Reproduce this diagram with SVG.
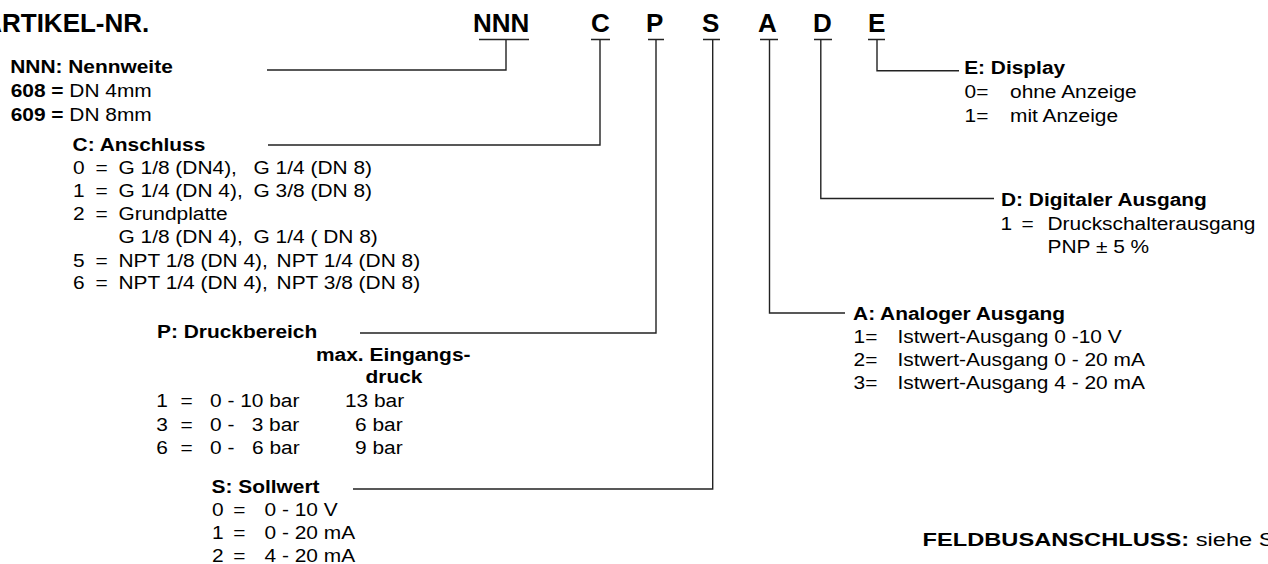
<svg xmlns="http://www.w3.org/2000/svg" width="1268" height="564" viewBox="0 0 1268 564">
<style>
text{font-family:"Liberation Sans",Arial,Helvetica,sans-serif;font-size:19px;fill:#000}
.h{font-size:26px;font-weight:bold}
.b{font-weight:bold}
.ln{fill:none;stroke:#222;stroke-width:1.4}
</style>
<rect width="1268" height="564" fill="#fff"/>
<g id="header">
<text class="h" x="-16.8" y="31.5">ARTIKEL-NR.</text>
<text class="h" x="473" y="31.5">NNN</text>
<text class="h" x="591" y="31.5">C</text>
<text class="h" x="646" y="31.5">P</text>
<text class="h" x="702" y="31.5">S</text>
<text class="h" x="758" y="31.5">A</text>
<text class="h" x="813" y="31.5">D</text>
<text class="h" x="868" y="31.5">E</text>
</g>
<g id="connectors">
<path class="ln" d="M479 39.5H529M506 39.5V70H267"/>
<path class="ln" d="M591 39.5H610M600 39.5V145H268"/>
<path class="ln" d="M648 39.5H664M656 39.5V333H360"/>
<path class="ln" d="M703 39.5H720M712.7 39.5V489H353"/>
<path class="ln" d="M760 39.5H778M769.5 39.5V313H845"/>
<path class="ln" d="M814 39.5H832M820.8 39.5V198.5H994"/>
<path class="ln" d="M868 39.5H885M877 39.5V70.7H959"/>
</g>
<g id="nnn" transform="scale(1.1 1)">
<text class="b" x="9.3" y="73">NNN: Nennweite</text>
<text x="9.7" y="97"><tspan class="b">608 =</tspan> DN 4mm</text>
<text x="9.7" y="121"><tspan class="b">609 =</tspan> DN 8mm</text>
</g>
<g id="c" transform="scale(1.1 1)">
<text class="b" x="66" y="151">C: Anschluss</text>
<text y="174"><tspan x="66.4">0</tspan><tspan x="86.8">=</tspan><tspan x="107.7">G 1/8 (DN4),</tspan><tspan x="230.5">G 1/4 (DN 8)</tspan></text>
<text y="197.3"><tspan x="66.4">1</tspan><tspan x="86.8">=</tspan><tspan x="107.7">G 1/4 (DN 4),</tspan><tspan x="230.5">G 3/8 (DN 8)</tspan></text>
<text y="220.3"><tspan x="66.4">2</tspan><tspan x="86.8">=</tspan><tspan x="107.7">Grundplatte</tspan></text>
<text y="243.3"><tspan x="107.7">G 1/8 (DN 4),</tspan><tspan x="230.5">G 1/4 ( DN 8)</tspan></text>
<text y="266.7"><tspan x="66.4">5</tspan><tspan x="86.8">=</tspan><tspan x="107.7">NPT 1/8 (DN 4),</tspan><tspan x="251.4">NPT 1/4 (DN 8)</tspan></text>
<text y="289.3"><tspan x="66.4">6</tspan><tspan x="86.8">=</tspan><tspan x="107.7">NPT 1/4 (DN 4),</tspan><tspan x="251.4">NPT 3/8 (DN 8)</tspan></text>
</g>
<g id="p" transform="scale(1.1 1)">
<text class="b" x="142.7" y="337.7">P: Druckbereich</text>
<text class="b" x="287.3" y="361">max. Eingangs-</text>
<text class="b" x="332.3" y="382.7">druck</text>
<text y="407.3"><tspan x="142.1">1</tspan><tspan x="164.1">=</tspan><tspan x="190.9">0 - 10 bar</tspan><tspan x="313.6">13 bar</tspan></text>
<text y="430.6"><tspan x="142.1">3</tspan><tspan x="164.1">=</tspan><tspan x="190.9">0 -</tspan><tspan x="228.8">3 bar</tspan><tspan x="322.7">6 bar</tspan></text>
<text y="454"><tspan x="142.1">6</tspan><tspan x="164.1">=</tspan><tspan x="190.9">0 -</tspan><tspan x="229.1">6 bar</tspan><tspan x="322.7">9 bar</tspan></text>
</g>
<g id="s" transform="scale(1.1 1)">
<text class="b" x="192.3" y="493">S: Sollwert</text>
<text y="516.5"><tspan x="192.7">0</tspan><tspan x="212.1">=</tspan><tspan x="240.5">0 - 10 V</tspan></text>
<text y="539.5"><tspan x="192.7">1</tspan><tspan x="212.1">=</tspan><tspan x="240.5">0 - 20 mA</tspan></text>
<text y="562"><tspan x="192.7">2</tspan><tspan x="212.1">=</tspan><tspan x="240.5">4 - 20 mA</tspan></text>
</g>
<g id="e" transform="scale(1.1 1)">
<text class="b" x="876.5" y="74">E: Display</text>
<text y="97.6"><tspan x="876.9">0</tspan><tspan x="887.5">=</tspan><tspan x="918.2">ohne Anzeige</tspan></text>
<text y="121.9"><tspan x="876.9">1</tspan><tspan x="887.5">=</tspan><tspan x="918.2">mit Anzeige</tspan></text>
</g>
<g id="d" transform="scale(1.1 1)">
<text class="b" x="910" y="206.3">D: Digitaler Ausgang</text>
<text y="230.5"><tspan x="909.5">1</tspan><tspan x="928.7">=</tspan><tspan x="952.3">Druckschalterausgang</tspan></text>
<text x="952.3" y="253.4">PNP ± 5 %</text>
</g>
<g id="a" transform="scale(1.1 1)">
<text class="b" x="775.5" y="319.7">A: Analoger Ausgang</text>
<text y="342.8"><tspan x="776">1</tspan><tspan x="786.5">=</tspan><tspan x="815.9">Istwert-Ausgang 0 -10 V</tspan></text>
<text y="366"><tspan x="776">2</tspan><tspan x="786.5">=</tspan><tspan x="815.9">Istwert-Ausgang 0 - 20 mA</tspan></text>
<text y="389"><tspan x="776">3</tspan><tspan x="786.5">=</tspan><tspan x="815.9">Istwert-Ausgang 4 - 20 mA</tspan></text>
</g>
<g id="feldbus" transform="scale(1.245 1)">
<text x="741" y="546"><tspan class="b">FELDBUSANSCHLUSS:</tspan> siehe S</text>
</g>
</svg>
